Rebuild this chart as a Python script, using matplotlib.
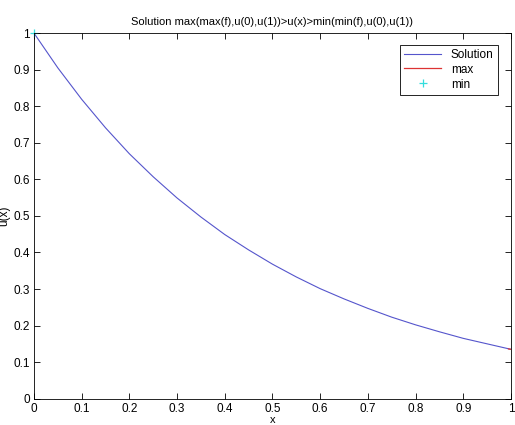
import matplotlib
matplotlib.use("Agg")
import matplotlib.pyplot as plt

plt.rcParams['font.family'] = ['Liberation Sans', 'DejaVu Sans']

x_vals = [0.00, 0.05, 0.10, 0.15, 0.20, 0.25, 0.30, 0.35, 0.40, 0.45, 0.50,
          0.55, 0.60, 0.65, 0.70, 0.75, 0.80, 0.85, 0.90, 0.95, 1.00]
u_vals = [1.000, 0.905, 0.819, 0.741, 0.670, 0.607, 0.549, 0.497, 0.449, 0.407, 0.368,
          0.333, 0.301, 0.273, 0.247, 0.223, 0.202, 0.183, 0.165, 0.150, 0.135]
max_x = [0.995, 1.0]
max_y = [0.136, 0.135]
min_x = [0.0]
min_y = [1.0]
tick_vals = [0.0, 0.1, 0.2, 0.3, 0.4, 0.5, 0.6, 0.7, 0.8, 0.9, 1.0]
tick_labels = ['0', '0.1', '0.2', '0.3', '0.4', '0.5', '0.6', '0.7', '0.8', '0.9', '1']

fig = plt.figure(figsize=(5.15, 4.25), dpi=100)
ax = fig.add_axes([0.066, 0.062, 0.926, 0.86])
ax.plot(x_vals, u_vals, color='#5555cc', lw=0.8, label='Solution')
ax.plot(max_x, max_y, color='#dd3333', lw=0.9, label='max')
ax.plot(min_x, min_y, '+', color='#33dddd', ms=6, mew=0.9, label='min', clip_on=False)

ax.set_xlim(0, 1)
ax.set_ylim(0, 1)
ax.set_xticks(tick_vals)
ax.set_xticklabels(tick_labels)
ax.set_yticks(tick_vals)
ax.set_yticklabels(tick_labels)
ax.tick_params(direction='in', length=4, width=0.6, labelsize=8.5, top=True, right=True, pad=3)
for s in ax.spines.values():
    s.set_linewidth(0.6)
ax.set_title('Solution max(max(f),u(0),u(1))>u(x)>min(min(f),u(0),u(1))', fontsize=8, pad=6)
ax.set_ylabel('u(x)', fontsize=8.5, labelpad=2)
ax.set_xlabel('x', fontsize=8, labelpad=0)
leg = ax.legend(loc='upper right', fontsize=8.5, fancybox=False, framealpha=1,
                edgecolor='black', handlelength=3.2, borderpad=0.35, labelspacing=0.25,
                bbox_to_anchor=(0.985, 0.985))
leg.get_frame().set_linewidth(0.6)
fig.savefig('out.png', dpi=100)
